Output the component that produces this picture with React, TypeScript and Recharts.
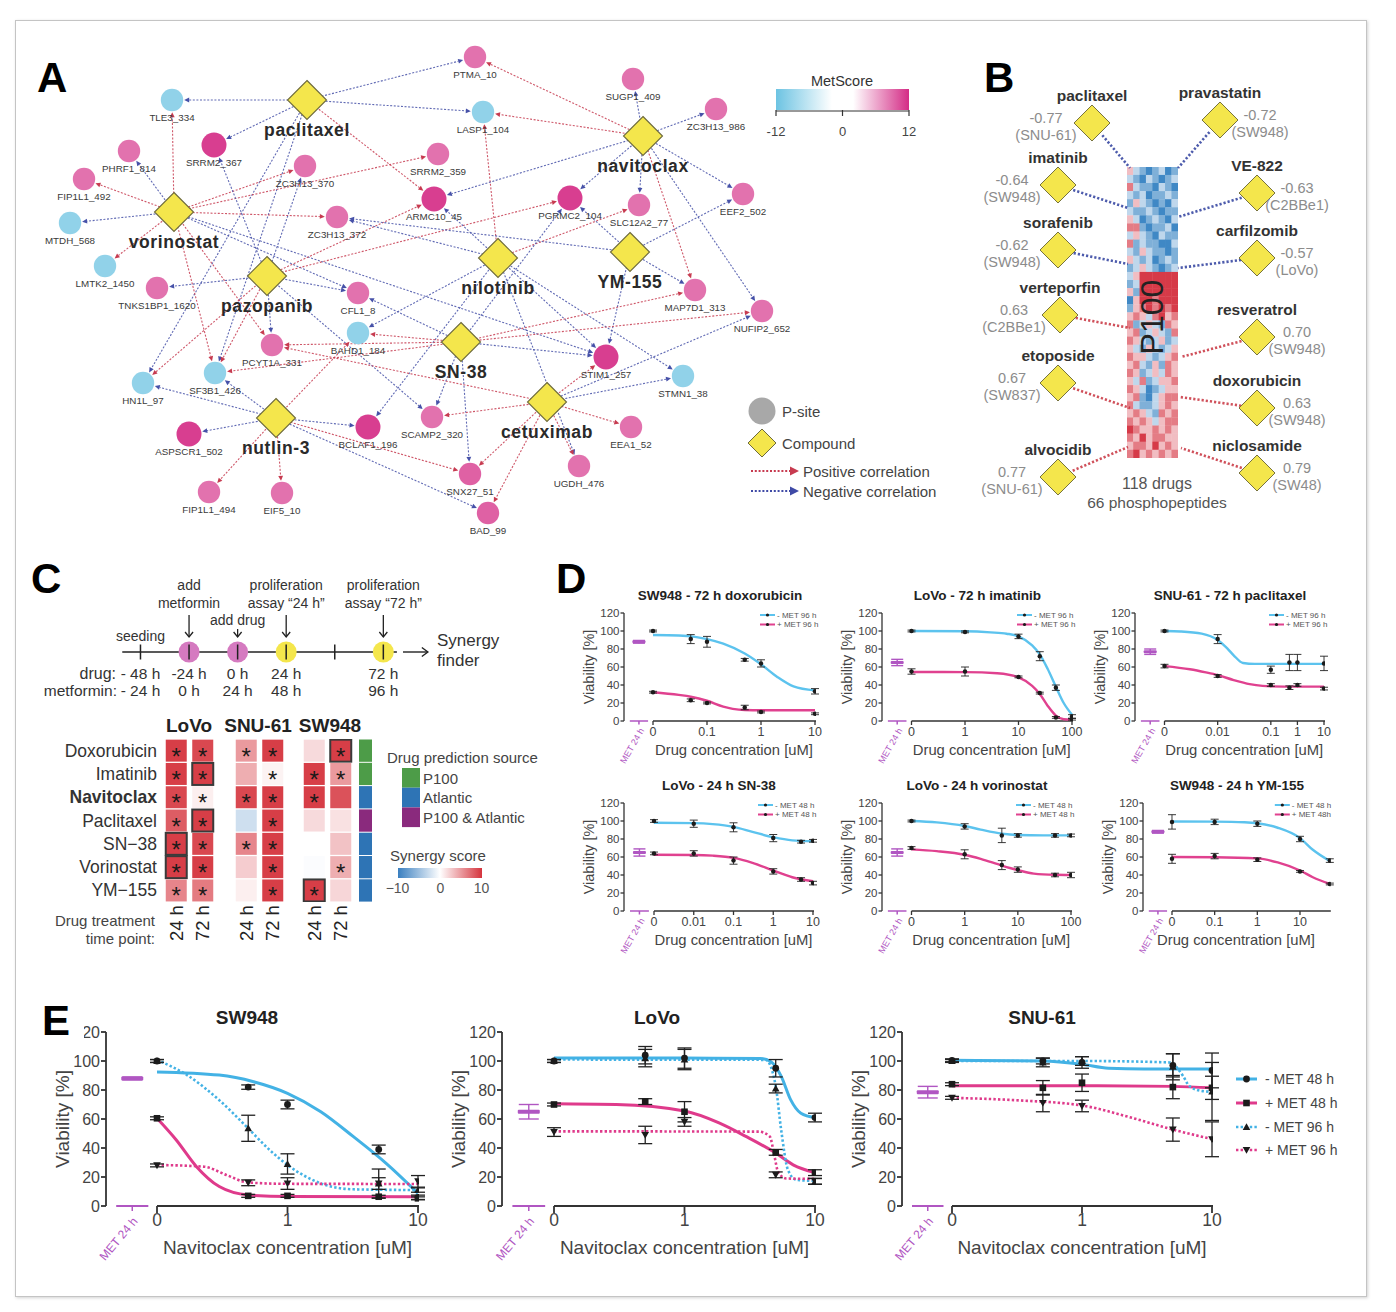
import React from 'react';
import { ComposedChart, ErrorBar, Line, ReferenceLine, Scatter, ScatterChart, XAxis, YAxis } from 'recharts';

const FONT = '"Liberation Sans", Arial, Helvetica, sans-serif';
const PURPLE = '#b056c2';
const YELLOW = '#f4e64c';

/* ---------------- A: compound / phospho-site network ---------------- */
const compoundNames = ['paclitaxel', 'navitoclax', 'vorinostat', 'pazopanib', 'nilotinib', 'YM-155', 'SN-38', 'cetuximab', 'nutlin-3'];
const compoundPos = [[307, 100], [643, 136], [174, 212], [267, 276], [498, 258], [630, 252], [461, 342], [547, 402], [276, 418]];

const psiteNames = ['PTMA_10', 'TLE3_334', 'LASP1_104', 'SUGP1_409', 'ZC3H13_986', 'SRRM2_367', 'PHRF1_814', 'SRRM2_359', 'ZC3H13_370',
  'FIP1L1_492', 'ARMC10_45', 'PGRMC2_104', 'SLC12A2_77', 'EEF2_502', 'MTDH_568', 'ZC3H13_372', 'LMTK2_1450', 'TNKS1BP1_1620',
  'CFL1_8', 'MAP7D1_313', 'NUFIP2_652', 'BAHD1_184', 'PCYT1A_331', 'SF3B1_426', 'HN1L_97', 'STIM1_257', 'STMN1_38', 'SCAMP2_320',
  'BCLAF1_196', 'ASPSCR1_502', 'EEA1_52', 'SNX27_51', 'UGDH_476', 'FIP1L1_494', 'EIF5_10', 'BAD_99'];
const psiteScore = [8, -9, -9, 8, 8, 11, 8, 8, 8, 8, 11, 11, 8, 8, -9, 8, -9, 8, 8, 8, 8, -9, 8, -9, -9, 11, -9, 8, 11, 11, 8, 9, 8, 8, 8, 9];
const psitePos = [[475, 57], [172, 100], [483, 112], [633, 79], [716, 109], [214, 145], [129, 151], [438, 154], [305, 166],
  [84, 179], [434, 199], [570, 198], [639, 205], [743, 194], [70, 223], [337, 217], [105, 266], [157, 288],
  [358, 293], [695, 290], [762, 311], [358, 333], [272, 345], [215, 373], [143, 383], [606, 357], [683, 376], [432, 417],
  [368, 427], [189, 434], [631, 427], [470, 474], [579, 466], [209, 492], [282, 493], [488, 513]];

// [compound, phospho-site, sign of correlation]
const netEdges: [string, string, number][] = [
  ['paclitaxel', 'TLE3_334', -1], ['paclitaxel', 'PTMA_10', -1], ['paclitaxel', 'LASP1_104', -1], ['paclitaxel', 'SRRM2_367', -1],
  ['paclitaxel', 'ARMC10_45', 1], ['paclitaxel', 'HN1L_97', -1], ['paclitaxel', 'SF3B1_426', -1],
  ['vorinostat', 'TLE3_334', 1], ['vorinostat', 'PHRF1_814', -1], ['vorinostat', 'FIP1L1_492', 1], ['vorinostat', 'MTDH_568', -1],
  ['vorinostat', 'LMTK2_1450', 1], ['vorinostat', 'ZC3H13_370', 1], ['vorinostat', 'SRRM2_359', 1], ['vorinostat', 'ZC3H13_372', 1],
  ['vorinostat', 'SF3B1_426', 1], ['vorinostat', 'PCYT1A_331', 1], ['vorinostat', 'STIM1_257', -1], ['vorinostat', 'CFL1_8', -1],
  ['pazopanib', 'TNKS1BP1_1620', -1], ['pazopanib', 'CFL1_8', -1], ['pazopanib', 'PCYT1A_331', -1], ['pazopanib', 'SF3B1_426', 1],
  ['pazopanib', 'HN1L_97', 1], ['pazopanib', 'SRRM2_367', -1], ['pazopanib', 'ZC3H13_370', -1], ['pazopanib', 'ARMC10_45', 1],
  ['pazopanib', 'PGRMC2_104', 1], ['pazopanib', 'SCAMP2_320', -1],
  ['nilotinib', 'LASP1_104', 1], ['nilotinib', 'ZC3H13_372', -1], ['nilotinib', 'ARMC10_45', -1], ['nilotinib', 'SLC12A2_77', 1],
  ['nilotinib', 'STIM1_257', -1], ['nilotinib', 'STMN1_38', -1], ['nilotinib', 'BAHD1_184', -1], ['nilotinib', 'BCLAF1_196', -1],
  ['nilotinib', 'UGDH_476', -1],
  ['navitoclax', 'SUGP1_409', -1], ['navitoclax', 'ZC3H13_986', -1], ['navitoclax', 'PTMA_10', 1], ['navitoclax', 'LASP1_104', 1],
  ['navitoclax', 'PGRMC2_104', -1], ['navitoclax', 'SLC12A2_77', -1], ['navitoclax', 'EEF2_502', -1], ['navitoclax', 'MAP7D1_313', 1],
  ['navitoclax', 'NUFIP2_652', -1], ['navitoclax', 'ARMC10_45', -1],
  ['YM-155', 'PGRMC2_104', -1], ['YM-155', 'EEF2_502', -1], ['YM-155', 'MAP7D1_313', -1], ['YM-155', 'STIM1_257', -1], ['YM-155', 'ZC3H13_372', -1],
  ['SN-38', 'BAHD1_184', 1], ['SN-38', 'PCYT1A_331', 1], ['SN-38', 'SF3B1_426', 1], ['SN-38', 'SCAMP2_320', -1], ['SN-38', 'SNX27_51', -1],
  ['SN-38', 'CFL1_8', -1], ['SN-38', 'MAP7D1_313', 1], ['SN-38', 'NUFIP2_652', 1], ['SN-38', 'STIM1_257', -1], ['SN-38', 'PGRMC2_104', -1],
  ['cetuximab', 'STIM1_257', 1], ['cetuximab', 'STMN1_38', -1], ['cetuximab', 'NUFIP2_652', -1], ['cetuximab', 'EEA1_52', 1],
  ['cetuximab', 'UGDH_476', 1], ['cetuximab', 'SNX27_51', 1], ['cetuximab', 'BAD_99', 1], ['cetuximab', 'SCAMP2_320', 1],
  ['cetuximab', 'PCYT1A_331', 1],
  ['nutlin-3', 'SF3B1_426', -1], ['nutlin-3', 'HN1L_97', -1], ['nutlin-3', 'ASPSCR1_502', -1], ['nutlin-3', 'FIP1L1_494', 1],
  ['nutlin-3', 'EIF5_10', 1], ['nutlin-3', 'BCLAF1_196', -1], ['nutlin-3', 'SNX27_51', 1], ['nutlin-3', 'BAD_99', -1],
  ['nutlin-3', 'BAHD1_184', 1],
];

/* ---------------- B: P100 correlations ---------------- */
const bNames = ['paclitaxel', 'imatinib', 'sorafenib', 'verteporfin', 'etoposide', 'alvocidib',
  'pravastatin', 'VE-822', 'carfilzomib', 'resveratrol', 'doxorubicin', 'niclosamide'];
const bCorr = [-0.77, -0.64, -0.62, 0.63, 0.67, 0.77, -0.72, -0.63, -0.57, 0.70, 0.63, 0.79];
const bCellLine = ['SNU-61', 'SW948', 'SW948', 'C2BBe1', 'SW837', 'SNU-61', 'SW948', 'C2BBe1', 'LoVo', 'SW948', 'SW948', 'SW48'];
const bNodePos = [[1092, 123], [1058, 185], [1058, 250], [1060, 315], [1058, 383], [1058, 477],
  [1220, 120], [1257, 193], [1257, 258], [1257, 337], [1257, 408], [1257, 473]];
const bAttach = [[1130, 168], [1128, 208], [1128, 264], [1130, 328], [1130, 408], [1128, 447],
  [1178, 168], [1178, 217], [1178, 268], [1181, 357], [1180, 397], [1181, 448]];
// coarse reading of the 118 x 66 heat map: B/b/c blue, . white, p/r/R red
const p100Rows = [
  'pcbBbcBb', 'cbBcbBbc', 'rcbbBcbB', 'cbcBbbcb', 'bpcbBbBc', 'cbbcbBbb', 'pcBbcbBc', 'rrbBbbcB', 'cpcbBcbb', 'rbcbbBBc',
  'cbpcbbBb', 'pcbcBbcb', 'bcpcbBbc', 'cpRRRRRR', 'bcRRRRRR', 'pbRRRRRR', 'BpRRrRRR', 'bprRrRrR', 'prpcrRpr', 'rbcpcbrp',
  'prbcpcbr', 'rpcbcpbc', 'pcbpcbcp', 'rppcbcpr', 'prcbpbrp', 'rpbcpcrp', 'pcrbcppr', 'rpcBbcpp', 'prbBcprr', 'rcbbcprp',
  'prpcbrpr', 'rprpcprr', 'Rrpprprp', 'rpRprrpp', 'prrpRprp', 'rRprprpr'];
const heatLevel: Record<string, number> = { B: -3, b: -2, c: -1, '.': 0, p: 1, r: 2, R: 3 };

/* ---------------- C: timeline and synergy heat map ---------------- */
const tlHours = [-48, -24, 0, 24, 48, 72];
const tlDrugLabel = ['- 48 h', '-24 h', '0 h', '24 h', '', '72 h'];
const tlMetLabel = ['- 24 h', '0 h', '24 h', '48 h', '', '96 h'];
const tlEvent = [['seeding'], ['add', 'metformin'], ['add drug'], ['proliferation', 'assay \u201C24 h\u201D'], [], ['proliferation', 'assay \u201C72 h\u201D']];
const tlMarker = ['', 'metformin', 'drug', 'assay', '', 'assay'];
const tlArrow = [false, true, true, true, false, true];

const synDrugs = ['Doxorubicin', 'Imatinib', 'Navitoclax', 'Paclitaxel', 'SN\u221238', 'Vorinostat', 'YM\u2212155'];
const synLines = ['LoVo', 'SNU-61', 'SW948'];
const synTimes = ['24 h', '72 h'];
const synLoVo24 = [9.5, 9.5, 9, 8, 9.5, 9.5, 6];
const synLoVo72 = [9, 9.5, 0.8, 9.5, 9, 9.5, 6.5];
const synSNU24 = [5, 4, 9, -2.5, 6, 2.5, 0.8];
const synSNU72 = [9.5, 0.6, 9.5, 9.5, 9.5, 9.5, 9.5];
const synSW24 = [1.8, 9.5, 9.5, 1.8, 0, -0.2, 9.5];
const synSW72 = [9.5, 5, 8.5, 1.5, 3, 4, 2];
const sigLoVo24 = [1, 1, 1, 1, 1, 1, 1];
const sigLoVo72 = [1, 1, 1, 1, 1, 1, 1];
const sigSNU24 = [1, 0, 1, 0, 1, 0, 0];
const sigSNU72 = [1, 1, 1, 1, 1, 1, 1];
const sigSW24 = [0, 1, 1, 0, 0, 0, 1];
const sigSW72 = [1, 1, 0, 0, 0, 1, 0];
const boxLoVo24 = [0, 0, 0, 0, 1, 1, 0];
const boxLoVo72 = [0, 1, 0, 1, 0, 0, 0];
const boxNone = [0, 0, 0, 0, 0, 0, 0];
const boxSW24 = [0, 0, 0, 0, 0, 0, 1];
const boxSW72 = [1, 0, 0, 0, 0, 0, 0];
const predSource = ['P100', 'P100', 'Atlantic', 'P100 & Atlantic', 'Atlantic', 'Atlantic', 'Atlantic'];
const sourceNames = ['P100', 'Atlantic', 'P100 & Atlantic'];
const sourceColors = ['#4d9c48', '#2e74b5', '#8a2a7d'];

/* ---------------- D: dose response, six pairs ---------------- */
// [concentration, mean, sd] and fitted curve [concentration, value]
const d1Minus = [[0, 100, 1], [0.05, 91, 5], [0.1, 88, 6], [0.5, 68, 1.5], [1, 64, 4], [10, 33, 3]];
const d1MinusFit = [[0, 95.5], [0.03, 95], [0.06, 93.5], [0.1, 91], [0.2, 86], [0.5, 75], [1, 63], [2, 49], [4, 38.5], [10, 34]];
const d1Plus = [[0, 32, 1], [0.05, 23, 1.5], [0.1, 20, 1], [0.5, 15, 2.5], [1, 10, 1], [10, 8, 1]];
const d1PlusFit = [[0, 32], [0.03, 29], [0.05, 27], [0.1, 22.5], [0.2, 16], [0.3, 13.5], [0.5, 12.2], [1, 12], [10, 12]];
const d2Minus = [[0, 100, 1], [1, 99, 1], [10, 94, 2.5], [25, 72, 5], [50, 37, 3], [100, 5, 2]];
const d2MinusFit = [[0, 100], [1, 99.7], [3, 98.5], [6, 97], [10, 94], [18, 84], [25, 74], [35, 58], [50, 38], [70, 20], [100, 7]];
const d2Plus = [[0, 55, 3], [1, 55, 5], [10, 49, 1], [25, 31, 1], [50, 4, 1], [100, 2, 1]];
const d2PlusFit = [[0, 54.5], [1, 54.3], [4, 53], [10, 48.5], [18, 39], [25, 30], [35, 17], [50, 6], [70, 2], [100, 1.5]];
const d3Minus = [[0, 100, 1], [0.01, 91, 5], [0.1, 57, 4], [0.5, 65, 9], [1, 65, 9], [10, 64, 8]];
const d3MinusFit = [[0, 100], [0.002, 99.5], [0.005, 97], [0.01, 90], [0.015, 81], [0.02, 73], [0.03, 64.5], [0.05, 63.5], [0.1, 63.5], [1, 63.5], [10, 63.5]];
const d3Plus = [[0, 61, 2], [0.01, 50, 1.5], [0.1, 40, 1.5], [0.5, 37, 2], [1, 40, 1.5], [10, 36, 1.5]];
const d3PlusFit = [[0, 61], [0.003, 57.5], [0.006, 54], [0.01, 51], [0.02, 45.5], [0.04, 41], [0.07, 39], [0.1, 38.5], [1, 38.2], [10, 38.2]];
const d4Minus = [[0, 100, 1.5], [0.01, 97, 4], [0.1, 93, 5], [1, 81, 4], [5, 77, 1.5], [10, 78, 1.5]];
const d4MinusFit = [[0, 98], [0.01, 97.6], [0.03, 96.5], [0.1, 93.5], [0.3, 88], [1, 82], [3, 78.5], [10, 77.5]];
const d4Plus = [[0, 64, 1.5], [0.01, 64, 3], [0.1, 56, 4], [1, 44, 3], [5, 35, 2], [10, 31, 2]];
const d4PlusFit = [[0, 62.5], [0.01, 62.3], [0.03, 61.5], [0.1, 59], [0.3, 53.5], [1, 45], [3, 37.5], [10, 33]];
const d5Minus = [[0, 100, 1], [1, 94, 3], [5, 84, 8], [10, 84, 2], [50, 84, 2], [100, 84, 1.5]];
const d5MinusFit = [[0, 100], [0.3, 98.5], [1, 94.5], [2, 90.5], [5, 86], [10, 84.5], [30, 84], [100, 84]];
const d5Plus = [[0, 70, 1.5], [1, 63, 5], [5, 51, 5], [10, 46, 3], [50, 40, 2], [100, 40, 3]];
const d5PlusFit = [[0, 68.5], [0.3, 66.5], [1, 62.5], [2, 58], [5, 50.5], [10, 45.5], [20, 41.5], [50, 40.2], [100, 40]];
const d6Minus = [[0, 99, 8], [0.1, 99, 3], [1, 97, 3], [10, 80, 3], [50, 56, 2]];
const d6MinusFit = [[0, 99.5], [0.1, 99.3], [0.5, 98.6], [1, 97.5], [3, 92.5], [10, 81], [20, 68], [50, 55.5]];
const d6Plus = [[0, 58, 5], [0.1, 61, 3], [1, 57, 2], [10, 44, 1], [50, 30, 1]];
const d6PlusFit = [[0, 60], [0.1, 59.8], [1, 58.5], [3, 54], [10, 45], [20, 37.5], [50, 30]];

/* ---------------- E: navitoclax, three cell lines ---------------- */
const e1M48 = [[0, 100, 1], [0.5, 82, 1.5], [1, 70, 3], [5, 39, 3], [10, 6, 1.5]];
const e1M48Fit = [[0, 92.5], [0.3, 90.3], [0.55, 85.7], [1, 77.7], [1.8, 65], [3.2, 47.8], [5.7, 29.4], [10, 8.7]];
const e1P48 = [[0, 60.5, 1], [0.5, 7, 1], [1, 7, 1], [5, 6.4, 1], [10, 5.3, 1]];
const e1P48Fit = [[0, 60.5], [0.14, 45.7], [0.2, 27.3], [0.3, 13.4], [0.5, 7.6], [1, 6.5], [10, 6.3]];
const e1M96 = [[0, 100, 1], [0.5, 53.6, 9], [1, 29, 7], [5, 15.5, 10], [10, 11, 1.5]];
const e1M96Fit = [[0, 100.7], [0.17, 90.3], [0.3, 73], [0.5, 53.5], [0.73, 38.6], [1, 28.3], [1.8, 15.6], [3.2, 11.5], [10, 11]];
const e1P96 = [[0, 28, 1], [0.5, 16, 2], [1, 15.5, 4], [5, 15.5, 4], [10, 17, 4]];
const e1P96Fit = [[0, 28.3], [0.23, 27.1], [0.34, 21.4], [0.5, 16.2], [1, 15.3], [10, 15.2]];
const e2M48 = [[0, 100, 1], [0.5, 104, 6], [1, 102, 7], [5, 95, 6], [10, 61, 3]];
const e2M48Fit = [[0, 102], [1, 102], [3.8, 101.8], [4.6, 99.5], [5.5, 89.6], [6.5, 73.4], [7.8, 64], [10, 61]];
const e2P48 = [[0, 70, 1], [0.5, 72, 2], [1, 65, 7], [5, 37, 2], [10, 23, 2]];
const e2P48Fit = [[0, 70.5], [0.3, 70], [1, 65.5], [1.84, 57.3], [2.95, 48], [5, 36.5], [6.8, 28.4], [10, 23]];
const e2M96 = [[0, 100, 1], [0.5, 102, 6], [1, 101, 7], [5, 81, 3], [10, 17, 2]];
const e2M96Fit = [[0, 101], [4.2, 100.8], [5, 82.7], [5.5, 52.7], [6.2, 25], [7.2, 18], [10, 17.3]];
const e2P96 = [[0, 51, 3], [0.5, 49, 6], [1, 58, 3], [5, 21.5, 2], [10, 17, 2]];
const e2P96Fit = [[0, 51.5], [3.7, 51.3], [4.5, 48], [4.9, 34], [5.2, 23.8], [6, 19], [10, 18.7]];
const e3M48 = [[0, 100.5, 1], [0.5, 100, 2], [1, 99, 4], [5, 97, 8], [10, 93.5, 12]];
const e3M48Fit = [[0, 100.5], [0.5, 100], [1, 97.7], [1.6, 95], [3, 94.5], [10, 94.5]];
const e3P48 = [[0, 84, 1], [0.5, 81.5, 5], [1, 85, 6], [5, 82, 8], [10, 81.5, 8]];
const e3P48Fit = [[0, 83], [1, 83], [5, 82.5], [10, 81.5]];
const e3M96 = [[0, 100, 1], [0.5, 99, 3], [1, 100, 3], [5, 96, 9], [10, 79, 20]];
const e3M96Fit = [[0, 100], [1, 100], [4.7, 99], [6, 89.6], [6.7, 82.7], [8.5, 79.2], [10, 78.8]];
const e3P96 = [[0, 74.6, 1], [0.5, 71, 6], [1, 69, 4], [5, 52.7, 8], [10, 46, 12]];
const e3P96Fit = [[0, 74.6], [0.3, 73], [1, 69.3], [2.45, 60.7], [5, 52.7], [10, 46.2]];

const BLUE_D = '#5cc3ee';
const PINK_D = '#e0418f';
const BLUE_E = '#43b2e5';
const PINK_E = '#df3a8b';

const labels96 = ['- MET 96 h', '+ MET 96 h'];
const labels48 = ['- MET 48 h', '+ MET 48 h'];
const eLabels = ['- MET 48 h', '+ MET 48 h', '- MET 96 h', '+ MET 96 h'];

const dSeries = (lab: string[], a: number[][], af: number[][], b: number[][], bf: number[][]) => [
  { label: lab[0], color: BLUE_D, dotted: false, marker: 'circle', pts: a, curve: af },
  { label: lab[1], color: PINK_D, dotted: false, marker: 'circle', pts: b, curve: bf },
];
const eSeries = (a: number[][], af: number[][], b: number[][], bf: number[][], c: number[][], cf: number[][], d: number[][], df: number[][]) => [
  { label: eLabels[0], color: BLUE_E, dotted: false, marker: 'circle', pts: a, curve: af },
  { label: eLabels[1], color: PINK_E, dotted: false, marker: 'square', pts: b, curve: bf },
  { label: eLabels[2], color: BLUE_E, dotted: true, marker: 'up', pts: c, curve: cf },
  { label: eLabels[3], color: PINK_E, dotted: true, marker: 'down', pts: d, curve: df },
];

const dCharts = [
  { title: 'SW948 - 72 h doxorubicin', tickLabels: ['0', '0.1', '1', '10'], tickConc: [0, 0.1, 1, 10], tickUnit: [0, 1, 2, 3], endConc: 10, met: [88, 1.5], series: dSeries(labels96, d1Minus, d1MinusFit, d1Plus, d1PlusFit) },
  { title: 'LoVo - 72 h imatinib', tickLabels: ['0', '1', '10', '100'], tickConc: [0, 1, 10, 100], tickUnit: [0, 1, 2, 3], endConc: 100, met: [65, 3.5], series: dSeries(labels96, d2Minus, d2MinusFit, d2Plus, d2PlusFit) },
  { title: 'SNU-61 - 72 h paclitaxel', tickLabels: ['0', '0.01', '0.1', '1', '10'], tickConc: [0, 0.01, 0.1, 1, 10], tickUnit: [0, 2, 4, 5, 6], endConc: 10, met: [77, 3], series: dSeries(labels96, d3Minus, d3MinusFit, d3Plus, d3PlusFit) },
  { title: 'LoVo - 24 h SN-38', tickLabels: ['0', '0.01', '0.1', '1', '10'], tickConc: [0, 0.01, 0.1, 1, 10], tickUnit: [0, 1, 2, 3, 4], endConc: 10, met: [65, 4], series: dSeries(labels48, d4Minus, d4MinusFit, d4Plus, d4PlusFit) },
  { title: 'LoVo - 24 h vorinostat', tickLabels: ['0', '1', '10', '100'], tickConc: [0, 1, 10, 100], tickUnit: [0, 1, 2, 3], endConc: 100, met: [65, 4], series: dSeries(labels48, d5Minus, d5MinusFit, d5Plus, d5PlusFit) },
  { title: 'SW948 - 24 h YM-155', tickLabels: ['0', '0.1', '1', '10'], tickConc: [0, 0.1, 1, 10], tickUnit: [0, 1, 2, 3], endConc: 50, met: [88, 1.5], series: dSeries(['- MET 48 h', '+ MET 48h'], d6Minus, d6MinusFit, d6Plus, d6PlusFit) },
];
const eCharts = [
  { title: 'SW948', tickLabels: ['0', '1', '10'], tickConc: [0, 1, 10], tickUnit: [0, 1, 2], endConc: 10, met: [88, 1], series: eSeries(e1M48, e1M48Fit, e1P48, e1P48Fit, e1M96, e1M96Fit, e1P96, e1P96Fit) },
  { title: 'LoVo', tickLabels: ['0', '1', '10'], tickConc: [0, 1, 10], tickUnit: [0, 1, 2], endConc: 10, met: [65, 5], series: eSeries(e2M48, e2M48Fit, e2P48, e2P48Fit, e2M96, e2M96Fit, e2P96, e2P96Fit) },
  { title: 'SNU-61', tickLabels: ['0', '1', '10'], tickConc: [0, 1, 10], tickUnit: [0, 1, 2], endConc: 10, met: [78.5, 4], series: eSeries(e3M48, e3M48Fit, e3P48, e3P48Fit, e3M96, e3M96Fit, e3P96, e3P96Fit) },
];

// page geometry of each dose plot (y-axis line, "0" tick, last tick, 120 % line, 0 % line)
const dLayout = [
  { axisX: 624, x0: 653, xLast: 815, yTop: 613, yBot: 721 },
  { axisX: 882, x0: 911.5, xLast: 1072, yTop: 613, yBot: 721 },
  { axisX: 1135, x0: 1164.5, xLast: 1324, yTop: 613, yBot: 721 },
  { axisX: 624, x0: 654, xLast: 813, yTop: 803, yBot: 911 },
  { axisX: 882, x0: 911.5, xLast: 1071, yTop: 803, yBot: 911 },
  { axisX: 1143, x0: 1172, xLast: 1300, yTop: 803, yBot: 911 },
];
const eLayout = [
  { axisX: 106, x0: 157, xLast: 418, yTop: 1032, yBot: 1206, big: true, titleX: 247 },
  { axisX: 502, x0: 554, xLast: 815, yTop: 1032, yBot: 1206, big: true, titleX: 657 },
  { axisX: 902, x0: 952, xLast: 1212, yTop: 1032, yBot: 1206, big: true, titleX: 1042 },
];

/* ---------------- helpers ---------------- */
const mix = (a: number[], t: number) => {
  const m = (v: number) => Math.round(255 + (v - 255) * t);
  return `rgb(${m(a[0])},${m(a[1])},${m(a[2])})`;
};
const metColor = (s: number) => mix(s < 0 ? [108, 195, 226] : [212, 44, 134], Math.min(1, Math.abs(s) / 12));
const synColor = (v: number) => mix(v < 0 ? [58, 127, 192] : [213, 52, 61], Math.min(1, Math.abs(v) / 10));
const heatColor = (v: number) => (v === 0 ? '#f6f6f6' : mix(v < 0 ? [63, 136, 197] : [214, 58, 72], Math.abs(v) / 3));
const nodeR = (s: number) => (Math.abs(s) >= 10 ? 12.5 : 11.2);

// log position on a piece-wise axis whose first tick "0" stands for a tenth of the next tick
function axisPos(c: number, tc: number[], tu: number[]) {
  const L = tc.map((v, i) => Math.log10(i === 0 ? tc[1] / 10 : v));
  const lc = Math.log10(c <= 0 ? tc[1] / 10 : c);
  let i = 0;
  while (i < L.length - 2 && lc > L[i + 1]) i++;
  return tu[i] + ((lc - L[i]) / (L[i + 1] - L[i])) * (tu[i + 1] - tu[i]);
}
function doseGeom(d: any, L: any) {
  const tu = d.tickUnit;
  const ppu = (L.xLast - L.x0) / (tu[tu.length - 1] - tu[0]);
  const xEnd = L.x0 + axisPos(d.endConc, d.tickConc, tu) * ppu + 1;
  const gap = L.x0 - L.axisX;
  const metPxA = L.axisX + gap * 0.2;
  const metPxB = L.x0 - gap * 0.17;
  return { ppu, xEnd, metPxA, metPxB };
}

const edgeShape = (r0: number, r1: number, color: string, arrow: boolean, width: number, dash: string) => (p: any) => {
  const { x1, y1, x2, y2 } = p;
  const dx = x2 - x1;
  const dy = y2 - y1;
  const len = Math.hypot(dx, dy) || 1;
  const ux = dx / len;
  const uy = dy / len;
  const sx = x1 + ux * r0;
  const sy = y1 + uy * r0;
  const ex = x2 - ux * r1;
  const ey = y2 - uy * r1;
  const ah = 5;
  const aw = 2.4;
  const bx = arrow ? ex - ux * ah : ex;
  const by = arrow ? ey - uy * ah : ey;
  return (
    <g>
      <line x1={sx} y1={sy} x2={bx} y2={by} stroke={color} strokeWidth={width} strokeDasharray={dash} opacity={0.85} />
      {arrow && <polygon points={`${ex},${ey} ${bx - uy * aw},${by + ux * aw} ${bx + uy * aw},${by - ux * aw}`} fill={color} />}
    </g>
  );
};

function PixelCanvas({ left, top, width, height, children }: any) {
  return (
    <div style={{ position: 'absolute', left, top, width, height }}>
      <ScatterChart width={width} height={height} margin={{ top: 0, right: 0, bottom: 0, left: 0 }}>
        <XAxis type="number" dataKey="x" domain={[left, left + width]} hide allowDataOverflow />
        <YAxis type="number" dataKey="y" domain={[top, top + height]} reversed hide allowDataOverflow />
        {children}
      </ScatterChart>
    </div>
  );
}

/* ---------------- A ---------------- */
const PsiteShape = (p: any) => {
  const { cx, cy, payload } = p;
  return (
    <g>
      <circle cx={cx} cy={cy} r={nodeR(payload.score)} fill={metColor(payload.score)} />
      <text x={cx} y={cy + 17.5} textAnchor="middle" dominantBaseline="central" fontSize={9.8} fill="#3a3a3a">{payload.name}</text>
    </g>
  );
};
const CompoundShape = (p: any) => {
  const { cx, cy, payload } = p;
  const h = 19.5;
  return (
    <g>
      <polygon points={`${cx},${cy - h} ${cx + h},${cy} ${cx},${cy + h} ${cx - h},${cy}`} fill={YELLOW} stroke="#6d6a3c" strokeWidth={1.1} />
      <text x={cx} y={cy + 30} textAnchor="middle" dominantBaseline="central" fontSize={17.5} fontWeight="bold" fill="#2a2a2a" letterSpacing={0.6}>{payload.name}</text>
    </g>
  );
};

function Network() {
  const comp = compoundNames.map((n, i) => ({ name: n, x: compoundPos[i][0], y: compoundPos[i][1] }));
  const sites = psiteNames.map((n, i) => ({ name: n, score: psiteScore[i], x: psitePos[i][0], y: psitePos[i][1] }));
  return (
    <PixelCanvas left={20} top={35} width={940} height={515}>
      {netEdges.map(([c, s, sign], i) => {
        const a = compoundPos[compoundNames.indexOf(c)];
        const j = psiteNames.indexOf(s);
        const b = psitePos[j];
        const col = sign > 0 ? '#c73b50' : '#4651a8';
        return (
          <ReferenceLine key={i} segment={[{ x: a[0], y: a[1] }, { x: b[0], y: b[1] }]} ifOverflow="visible" stroke={col}
            shape={edgeShape(15, nodeR(psiteScore[j]) + 1, col, true, 1.1, '2 1.6')} />
        );
      })}
      <Scatter data={sites} shape={PsiteShape} isAnimationActive={false} />
      <Scatter data={comp} shape={CompoundShape} isAnimationActive={false} />
    </PixelCanvas>
  );
}

/* ---------------- B ---------------- */
const BDiamond = (p: any) => {
  const { cx, cy, payload } = p;
  const h = 18;
  const vx = payload.left ? cx - 46 : cx + 40;
  return (
    <g>
      <polygon points={`${cx},${cy - h} ${cx + h},${cy} ${cx},${cy + h} ${cx - h},${cy}`} fill={YELLOW} stroke="#77733d" strokeWidth={1} />
      <text x={cx} y={cy - 28} textAnchor="middle" dominantBaseline="central" fontSize={15.5} fontWeight="bold" fill="#333">{payload.name}</text>
      <text x={vx} y={cy - 5} textAnchor="middle" dominantBaseline="central" fontSize={14.5} fill="#8c8c8c">{payload.corr.toFixed(2)}</text>
      <text x={vx} y={cy + 12} textAnchor="middle" dominantBaseline="central" fontSize={14.5} fill="#8c8c8c">({payload.line})</text>
    </g>
  );
};
const HeatCell = (p: any) => {
  const { cx, cy, payload } = p;
  return <rect x={cx - 3.4} y={cy - 4.2} width={6.8} height={8.4} fill={heatColor(payload.v)} />;
};

function P100Panel() {
  const cells = p100Rows.flatMap((row, r) => row.split('').map((ch, c) => ({ x: c, y: r, v: heatLevel[ch] })));
  const drugs = bNames.map((n, i) => ({ name: n, corr: bCorr[i], line: bCellLine[i], left: i < 6, x: bNodePos[i][0], y: bNodePos[i][1] }));
  return (
    <>
      <div style={{ position: 'absolute', left: 1127, top: 167, width: 51, height: 291 }}>
        <ScatterChart width={51} height={291} margin={{ top: 0, right: 0, bottom: 0, left: 0 }}>
          <XAxis type="number" dataKey="x" domain={[-0.5, 7.5]} hide allowDataOverflow />
          <YAxis type="number" dataKey="y" domain={[-0.5, 35.5]} reversed hide allowDataOverflow />
          <Scatter data={cells} shape={HeatCell} isAnimationActive={false} />
        </ScatterChart>
      </div>
      <PixelCanvas left={960} top={55} width={400} height={470}>
        {bNames.map((n, i) => {
          const col = bCorr[i] > 0 ? '#c8333f' : '#2e3f9e';
          return (
            <ReferenceLine key={n} segment={[{ x: bNodePos[i][0], y: bNodePos[i][1] }, { x: bAttach[i][0], y: bAttach[i][1] }]}
              ifOverflow="visible" stroke={col} shape={edgeShape(16, 0, col, false, 2.6, '2.2 2')} />
          );
        })}
        <Scatter data={drugs} shape={BDiamond} isAnimationActive={false} />
      </PixelCanvas>
    </>
  );
}

/* ---------------- C ---------------- */
const TimelineEvent = (p: any) => {
  const { cx, cy, payload } = p;
  const lines: string[] = payload.event;
  const offs = lines.length === 2 ? [-67, -49] : [payload.arrow ? -32 : -16];
  const a0 = lines.length === 2 ? -37 : -23;
  const fill = payload.mark === 'assay' ? YELLOW : payload.mark ? '#d57ac0' : null;
  return (
    <g>
      {fill && <circle cx={cx} cy={cy} r={10.5} fill={fill} />}
      <line x1={cx} y1={cy - 7.5} x2={cx} y2={cy + 7.5} stroke="#222" strokeWidth={1.5} />
      {lines.map((t, i) => (
        <text key={i} x={cx} y={cy + offs[i]} textAnchor="middle" dominantBaseline="central" fontSize={14} fill="#333">{t}</text>
      ))}
      {payload.arrow && (
        <g stroke="#222" strokeWidth={1.3} fill="none">
          <line x1={cx} y1={cy + a0} x2={cx} y2={cy - 15} />
          <polyline points={`${cx - 4},${cy - 20} ${cx},${cy - 15} ${cx + 4},${cy - 20}`} />
        </g>
      )}
      <text x={cx} y={cy + 21} textAnchor="middle" dominantBaseline="central" fontSize={15.5} fill="#333">{payload.drug}</text>
      <text x={cx} y={cy + 38} textAnchor="middle" dominantBaseline="central" fontSize={15.5} fill="#333">{payload.met}</text>
    </g>
  );
};
const ArrowRight = (p: any) => {
  const { x1, y1, x2 } = p;
  return (
    <g stroke="#222" strokeWidth={1.4} fill="none">
      <line x1={x1} y1={y1} x2={x2} y2={y1} />
      <polyline points={`${x2 - 6},${y1 - 4.5} ${x2},${y1} ${x2 - 6},${y1 + 4.5}`} />
    </g>
  );
};

function Timeline() {
  const data = tlHours.map((h, i) => ({ x: h, y: 0.5, drug: tlDrugLabel[i], met: tlMetLabel[i], event: tlEvent[i], mark: tlMarker[i], arrow: tlArrow[i] }));
  return (
    <div style={{ position: 'absolute', left: 100, top: 560, width: 340, height: 184 }}>
      <ScatterChart width={340} height={184} margin={{ top: 0, right: 0, bottom: 0, left: 0 }}>
        <XAxis type="number" dataKey="x" domain={[-68, 100]} hide allowDataOverflow />
        <YAxis type="number" dataKey="y" domain={[0, 1]} hide allowDataOverflow />
        <ReferenceLine segment={[{ x: -57, y: 0.5 }, { x: 78.7, y: 0.5 }]} stroke="#222" strokeWidth={1.5} ifOverflow="visible" />
        <ReferenceLine segment={[{ x: 81.7, y: 0.5 }, { x: 94, y: 0.5 }]} ifOverflow="visible" shape={ArrowRight} />
        <Scatter data={data} shape={TimelineEvent} isAnimationActive={false} />
      </ScatterChart>
    </div>
  );
}

const SYN_TOP = 739.4;
const SYN_ROW = 23.3;
const SYN_COL = 26.5;

const SynCell = (p: any) => {
  const { cx, cy, payload } = p;
  return (
    <g>
      <rect x={cx - 10.5} y={cy - 11} width={21} height={22} fill={synColor(payload.v)}
        stroke={payload.box ? '#3a3a3a' : 'none'} strokeWidth={payload.box ? 2 : 0} />
      {payload.sig ? <text x={cx} y={cy + 14} textAnchor="middle" fontSize={24} fill="#1a1a1a">*</text> : null}
    </g>
  );
};
const TimeTick = (p: any) => {
  const { x, y, payload } = p;
  const bx = x + 6.5;
  return (
    <text x={bx} y={y} transform={`rotate(-90 ${bx} ${y})`} textAnchor="end" fontSize={18.5} fill="#222">{synTimes[payload.value]}</text>
  );
};
const DrugTick = (p: any) => {
  const { x, y, payload } = p;
  return (
    <text x={x} y={y} textAnchor="end" dominantBaseline="central" fontSize={17.5} fill="#333"
      fontWeight={synDrugs[payload.value] === 'Navitoclax' ? 'bold' : 'normal'}>{synDrugs[payload.value]}</text>
  );
};

function SynergyGroup({ cols, plotLeft, names }: any) {
  const yw = names ? 150 : 0;
  const W = yw + 2 * SYN_COL;
  const H = 7 * SYN_ROW + 45;
  const cells = cols.flatMap((c: any, ti: number) => c.vals.map((v: number, di: number) => ({ x: ti, y: di, v, sig: c.sig[di], box: c.box[di] })));
  return (
    <div style={{ position: 'absolute', left: plotLeft - yw, top: SYN_TOP, width: W, height: H }}>
      <ScatterChart width={W} height={H} margin={{ top: 0, right: 0, bottom: 0, left: 0 }}>
        <XAxis type="number" dataKey="x" domain={[-0.5, 1.5]} ticks={[0, 1]} interval={0} height={45} axisLine={false}
          tickLine={false} tickSize={0} tickMargin={3} tick={TimeTick} allowDataOverflow />
        <YAxis type="number" dataKey="y" domain={[-0.5, 6.5]} ticks={[0, 1, 2, 3, 4, 5, 6]} interval={0} reversed width={yw}
          hide={!names} axisLine={false} tickLine={false} tickSize={0} tickMargin={6} tick={DrugTick} allowDataOverflow />
        <Scatter data={cells} shape={SynCell} isAnimationActive={false} />
      </ScatterChart>
    </div>
  );
}

const SourceCell = (p: any) => {
  const { cx, cy, payload } = p;
  return <rect x={cx - 6.5} y={cy - SYN_ROW / 2 + 0.5} width={13} height={SYN_ROW - 1} fill={sourceColors[sourceNames.indexOf(payload.s)]} />;
};
function SourceColumn() {
  const H = 7 * SYN_ROW;
  const cells = predSource.map((s, i) => ({ x: 0, y: i, s }));
  return (
    <div style={{ position: 'absolute', left: 359, top: SYN_TOP, width: 13, height: H }}>
      <ScatterChart width={13} height={H} margin={{ top: 0, right: 0, bottom: 0, left: 0 }}>
        <XAxis type="number" dataKey="x" domain={[-0.5, 0.5]} hide allowDataOverflow />
        <YAxis type="number" dataKey="y" domain={[-0.5, 6.5]} reversed hide allowDataOverflow />
        <Scatter data={cells} shape={SourceCell} isAnimationActive={false} />
      </ScatterChart>
    </div>
  );
}

/* ---------------- D & E ---------------- */
const markerShape = (kind: string, big: boolean) => (p: any) => {
  const { cx, cy } = p;
  const k = big ? 1 : 0.66;
  if (kind === 'square') {
    const h = 3.3 * k;
    return <rect x={cx - h} y={cy - h} width={2 * h} height={2 * h} fill="#1b1b1b" />;
  }
  if (kind === 'up') {
    const h = 3.8 * k;
    return <polygon points={`${cx},${cy - h} ${cx + h},${cy + h * 0.8} ${cx - h},${cy + h * 0.8}`} fill="#1b1b1b" />;
  }
  if (kind === 'down') {
    const h = 3.8 * k;
    return <polygon points={`${cx},${cy + h} ${cx + h},${cy - h * 0.8} ${cx - h},${cy - h * 0.8}`} fill="#1b1b1b" />;
  }
  return <circle cx={cx} cy={cy} r={3.4 * k} fill="#1b1b1b" />;
};
const metMarkShape = (big: boolean) => (p: any) => {
  const { cx, cy } = p;
  const w = big ? 22 : 13;
  const h = big ? 4 : 3;
  return <rect x={cx - w / 2} y={cy - h / 2} width={w} height={h} rx={1} fill={PURPLE} />;
};
const metAxisShape = (big: boolean) => (p: any) => {
  const { x1, y1, x2 } = p;
  const mx = (x1 + x2) / 2;
  return (
    <g>
      <line x1={x1} y1={y1} x2={x2} y2={y1} stroke={PURPLE} strokeWidth={big ? 2 : 1.5} />
      <line x1={mx} y1={y1} x2={mx} y2={y1 + (big ? 5 : 3.5)} stroke={PURPLE} strokeWidth={1.5} />
    </g>
  );
};

function DoseChart({ d, lay }: any) {
  const big = !!lay.big;
  const tu = d.tickUnit;
  const { ppu, xEnd, metPxA, metPxB } = doseGeom(d, lay);
  const toU = (px: number) => (px - lay.x0) / ppu;
  const pos = (c: number) => axisPos(c, d.tickConc, tu);
  const dmin = toU(lay.axisX);
  const dmax = toU(xEnd);
  const yw = big ? 48 : 36;
  const mt = 14;
  const mr = 22;
  const xh = big ? 32 : 22;
  const W = yw + (xEnd - lay.axisX) + mr;
  const H = mt + (lay.yBot - lay.yTop) + xh;
  const metA = toU(metPxA);
  const metB = toU(metPxB);
  const axisW = big ? 1.8 : 1.3;
  return (
    <div style={{ position: 'absolute', left: lay.axisX - yw, top: lay.yTop - mt, width: W, height: H }}>
      <ComposedChart width={W} height={H} margin={{ top: mt, right: mr, bottom: 0, left: 0 }}>
        <XAxis type="number" dataKey="x" domain={[dmin, dmax]} allowDataOverflow ticks={tu} interval={0}
          tickFormatter={(v: number) => d.tickLabels[tu.indexOf(v)]} axisLine={false}
          tickLine={{ stroke: '#333', strokeWidth: axisW }} tickSize={big ? 7 : 4} tickMargin={big ? 1 : 2}
          tick={{ fontSize: big ? 17.5 : 12.5, fill: '#444' }} height={xh} />
        <YAxis type="number" dataKey="y" domain={[0, 120]} ticks={[0, 20, 40, 60, 80, 100, 120]} interval={0} width={yw}
          allowDataOverflow axisLine={{ stroke: '#333', strokeWidth: axisW }} tickLine={{ stroke: '#333', strokeWidth: axisW }}
          tickSize={big ? 5 : 3.5} tickMargin={1} tick={{ fontSize: big ? 16 : 11.5, fill: '#444' }} />
        <ReferenceLine segment={[{ x: 0, y: 0 }, { x: dmax, y: 0 }]} stroke="#333" strokeWidth={axisW} ifOverflow="visible" />
        <ReferenceLine segment={[{ x: metA, y: 0 }, { x: metB, y: 0 }]} ifOverflow="visible" shape={metAxisShape(big)} />
        {d.series.map((s: any, i: number) => (
          <Line key={'c' + i} data={s.curve.map(([c, v]: number[]) => ({ x: pos(c), y: v }))} dataKey="y" type="monotone"
            stroke={s.color} strokeWidth={big ? (s.dotted ? 2.6 : 3) : 2.4} strokeDasharray={s.dotted ? '2.4 2.2' : undefined}
            dot={false} activeDot={false} isAnimationActive={false} />
        ))}
        {d.series.map((s: any, i: number) => (
          <Scatter key={'p' + i} data={s.pts.map(([c, v, e]: number[]) => ({ x: pos(c), y: v, e }))} dataKey="y"
            shape={markerShape(s.marker, big)} isAnimationActive={false}>
            <ErrorBar dataKey="e" direction="y" width={big ? 7 : 4} stroke="#222" strokeWidth={big ? 1.3 : 0.9} />
          </Scatter>
        ))}
        <Scatter data={[{ x: (metA + metB) / 2, y: d.met[0], e: d.met[1] }]} dataKey="y" shape={metMarkShape(big)} isAnimationActive={false}>
          <ErrorBar dataKey="e" direction="y" width={big ? 10 : 6} stroke={PURPLE} strokeWidth={1.4} />
        </Scatter>
      </ComposedChart>
    </div>
  );
}

/* ---------------- free text / legends ---------------- */
const T = ({ x, y, s, w, c, a, rot, children }: any) => (
  <text x={x} y={y} fontSize={s} fontWeight={w || 'normal'} fill={c || '#333'} textAnchor={a || 'middle'}
    dominantBaseline="central" transform={rot ? `rotate(${rot} ${x} ${y})` : undefined}>{children}</text>
);

function LegendMarker({ kind, x, y }: any) {
  return markerShape(kind, true)({ cx: x, cy: y });
}

function MetLabel({ d, L, big }: any) {
  const { metPxA, metPxB } = doseGeom(d, L);
  const tx = (metPxA + metPxB) / 2 + 3;
  const ty = L.yBot + (big ? 13 : 8);
  return <T x={tx} y={ty} s={big ? 12 : 9} c={PURPLE} a="end" rot={big ? -50 : -60}>MET 24 h</T>;
}

function Overlay() {
  return (
    <svg width={1396} height={1312} style={{ position: 'absolute', left: 0, top: 0, pointerEvents: 'none' }}>
      <defs>
        <linearGradient id="metGrad" x1="0" x2="1" y1="0" y2="0">
          <stop offset="0" stopColor="#6cc3e2" />
          <stop offset="0.42" stopColor="#ffffff" />
          <stop offset="0.58" stopColor="#ffffff" />
          <stop offset="1" stopColor="#d42c86" />
        </linearGradient>
        <linearGradient id="synGrad" x1="0" x2="1" y1="0" y2="0">
          <stop offset="0" stopColor="#3a7fc0" />
          <stop offset="0.5" stopColor="#ffffff" />
          <stop offset="1" stopColor="#d5343d" />
        </linearGradient>
      </defs>

      {/* panel letters */}
      <T x={37} y={77} s={42} w="bold" c="#000" a="start">A</T>
      <T x={984} y={77} s={42} w="bold" c="#000" a="start">B</T>
      <T x={31} y={578} s={42} w="bold" c="#000" a="start">C</T>
      <T x={556} y={578} s={42} w="bold" c="#000" a="start">D</T>
      <rect x={69} y={1023} width={15} height={18} fill="#fff" />
      <T x={42} y={1020} s={42} w="bold" c="#000" a="start">E</T>

      {/* A legends */}
      <T x={842} y={81} s={14.5} c="#333">MetScore</T>
      <rect x={776} y={89} width={133} height={21} fill="url(#metGrad)" />
      <line x1={776} y1={111} x2={909} y2={111} stroke="#333" strokeWidth={1} />
      {[776, 842.5, 909].map((x) => <line key={x} x1={x} y1={110} x2={x} y2={116} stroke="#333" strokeWidth={1.2} />)}
      <T x={776} y={131} s={13} c="#444">-12</T>
      <T x={842.5} y={131} s={13} c="#444">0</T>
      <T x={909} y={131} s={13} c="#444">12</T>
      <circle cx={762} cy={411} r={13.5} fill="#a8a8a8" />
      <T x={782} y={411} s={15} c="#444" a="start">P-site</T>
      <polygon points="762,429 776,443 762,457 748,443" fill={YELLOW} stroke="#6d6a3c" strokeWidth={1} />
      <T x={782} y={443} s={15} c="#444" a="start">Compound</T>
      <line x1={751} y1={471} x2={791} y2={471} stroke="#c73b50" strokeWidth={2} strokeDasharray="2 1.8" />
      <polygon points="799,471 790,466.5 790,475.5" fill="#c73b50" />
      <T x={803} y={471} s={15} c="#444" a="start">Positive correlation</T>
      <line x1={751} y1={491} x2={791} y2={491} stroke="#3f4aa6" strokeWidth={2} strokeDasharray="2 1.8" />
      <polygon points="799,491 790,486.5 790,495.5" fill="#3f4aa6" />
      <T x={803} y={491} s={15} c="#444" a="start">Negative correlation</T>

      {/* B */}
      <T x={1152} y={317} s={32} c="#222" rot={-90}>P100</T>
      <T x={1157} y={483} s={16} c="#555">118 drugs</T>
      <T x={1157} y={502} s={15.5} c="#555">66 phosphopeptides</T>

      {/* C */}
      <T x={116} y={673} s={16} c="#333" a="end">drug:</T>
      <T x={117} y={690} s={15.5} c="#333" a="end">metformin:</T>
      <T x={437} y={640} s={17} c="#333" a="start">Synergy</T>
      <T x={437} y={660} s={17} c="#333" a="start">finder</T>
      {synLines.map((n, i) => <T key={n} x={[189, 258, 330][i]} y={725} s={19} w="bold" c="#222">{n}</T>)}
      <T x={155} y={920} s={15} c="#444" a="end">Drug treatment</T>
      <T x={155} y={938} s={15} c="#444" a="end">time point:</T>
      <T x={387} y={757} s={15} c="#444" a="start">Drug prediction source</T>
      {sourceNames.map((n, i) => (
        <g key={n}>
          <rect x={402} y={768 + i * 19.7} width={18} height={19.7} fill={sourceColors[i]} />
          <T x={423} y={778 + i * 19.5} s={15} c="#444" a="start">{n}</T>
        </g>
      ))}
      <T x={438} y={855} s={15} c="#444">Synergy score</T>
      <rect x={398} y={868} width={84} height={10} fill="url(#synGrad)" />
      <T x={397.5} y={888} s={14} c="#555">{'\u221210'}</T>
      <T x={440.5} y={888} s={14} c="#555">0</T>
      <T x={481.5} y={888} s={14} c="#555">10</T>

      {/* D texts */}
      {dCharts.map((d, i) => {
        const L = dLayout[i];
        const { xEnd } = doseGeom(d, L);
        const lx = xEnd - 56;
        return (
          <g key={d.title}>
            <T x={(L.axisX + xEnd) / 2} y={L.yTop - 18} s={13.5} w="bold" c="#222">{d.title}</T>
            <T x={L.axisX - 35} y={(L.yTop + L.yBot) / 2} s={14.5} c="#444" rot={-90}>Viability [%]</T>
            <T x={(L.x0 + L.xLast) / 2} y={L.yBot + 29} s={14.8} c="#444">Drug concentration [uM]</T>
            <MetLabel d={d} L={L} big={false} />
            {d.series.map((s: any, k: number) => (
              <g key={s.label}>
                <line x1={lx} y1={L.yTop + 2 + k * 9.5} x2={lx + 15} y2={L.yTop + 2 + k * 9.5} stroke={s.color} strokeWidth={2} />
                <circle cx={lx + 7.5} cy={L.yTop + 2 + k * 9.5} r={1.6} fill="#1b1b1b" />
                <T x={lx + 17} y={L.yTop + 2 + k * 9.5} s={8} c="#555" a="start">{s.label}</T>
              </g>
            ))}
          </g>
        );
      })}

      {/* E texts */}
      {eCharts.map((d, i) => {
        const L = eLayout[i];
        return (
          <g key={d.title}>
            <T x={L.titleX} y={1017} s={19} w="bold" c="#222">{d.title}</T>
            <T x={L.axisX - 44} y={(L.yTop + L.yBot) / 2} s={19} c="#444" rot={-90}>Viability [%]</T>
            <T x={(L.x0 + L.xLast) / 2} y={L.yBot + 41} s={19} c="#444">Navitoclax concentration [uM]</T>
            <MetLabel d={d} L={L} big />
          </g>
        );
      })}
      {eCharts[2].series.map((s: any, k: number) => {
        const y = [1079, 1103, 1127, 1150][k];
        return (
          <g key={s.label}>
            <line x1={1236} y1={y} x2={1257} y2={y} stroke={s.color} strokeWidth={s.dotted ? 2.4 : 3} strokeDasharray={s.dotted ? '2.4 2.2' : undefined} />
            <LegendMarker kind={s.marker} x={1246.5} y={y} />
            <T x={1265} y={y} s={14} c="#444" a="start">{s.label}</T>
          </g>
        );
      })}
    </svg>
  );
}

export default function App() {
  const synGroups = [
    { left: 162.75, names: true, cols: [{ vals: synLoVo24, sig: sigLoVo24, box: boxLoVo24 }, { vals: synLoVo72, sig: sigLoVo72, box: boxLoVo72 }] },
    { left: 232.75, names: false, cols: [{ vals: synSNU24, sig: sigSNU24, box: boxNone }, { vals: synSNU72, sig: sigSNU72, box: boxNone }] },
    { left: 300.75, names: false, cols: [{ vals: synSW24, sig: sigSW24, box: boxSW24 }, { vals: synSW72, sig: sigSW72, box: boxSW72 }] },
  ];
  return (
    <div style={{ position: 'absolute', left: 0, top: 0, width: 1396, height: 1312, background: '#fff', fontFamily: FONT, overflow: 'hidden' }}>
      <div style={{ position: 'absolute', left: 15, top: 20, width: 1350, height: 1275, border: '1.5px solid #c4c4c4', boxShadow: '1px 1px 3px rgba(0,0,0,0.18)' }} />
      <Network />
      <P100Panel />
      <Timeline />
      {synGroups.map((g, i) => <SynergyGroup key={i} cols={g.cols} plotLeft={g.left} names={g.names} />)}
      <SourceColumn />
      {dCharts.map((d, i) => <DoseChart key={d.title} d={d} lay={dLayout[i]} />)}
      {eCharts.map((d, i) => <DoseChart key={d.title} d={d} lay={eLayout[i]} />)}
      <Overlay />
    </div>
  );
}
